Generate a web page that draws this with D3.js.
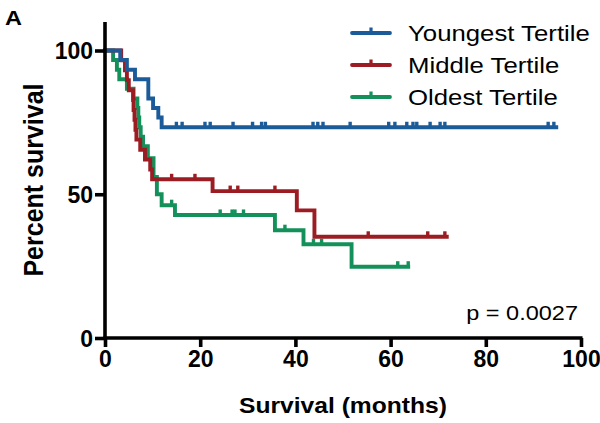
<!DOCTYPE html>
<html><head><meta charset="utf-8">
<script src="https://cdn.jsdelivr.net/npm/d3@7"></script>
<style>body{margin:0;background:#fff}svg{display:block}text{font-family:"Liberation Sans",Arial,sans-serif}</style>
</head><body><svg id="c" width="600" height="423"></svg>
<script>
const seriesNames = ["Youngest Tertile","Middle Tertile","Oldest Tertile"];
const seriesColors = ["#1b5b99","#9b1c22","#14915a"];
// step curves: [month, percent]
const youngSteps = [[0,100],[3.2,96.7],[4.6,93.3],[6.3,90.0],[9.1,83.3],[10.1,80.0],[11.2,76.7],[11.9,73.3]];
const youngEnd = 94.8;
const youngCensor = [15.0,16.2,21.0,22.1,26.9,31.0,32.9,33.7,43.7,44.7,45.8,51.5,59.6,60.9,63.4,64.7,65.5,68.3,70.4,71.4,93.1,94.3];
const middleSteps = [[0,100],[3.4,96.6],[4.2,93.1],[4.6,89.7],[5.0,86.2],[5.9,82.8],[6.0,79.3],[6.2,75.9],[6.4,72.4],[6.6,69.0],[7.4,65.5],[8.4,62.1],[9.5,58.6],[9.9,55.2],[22.6,51.1],[40.3,44.4],[44.0,35.2]];
const middleEnd = 71.8;
const middleCensor = [14.0,18.9,26.3,27.9,35.7,55.3,67.8,71.4];
const oldSteps = [[0,100],[1.7,96.7],[2.5,93.3],[3.0,90.0],[4.6,86.7],[6.0,83.3],[6.8,80.0],[7.0,76.7],[7.2,73.3],[7.5,70.0],[8.0,66.7],[9.0,62.5],[10.2,56.0],[10.9,50.0],[11.9,46.2],[14.7,42.8],[35.7,37.5],[41.7,32.6],[51.8,24.8]];
const oldEnd = 63.7;
const oldCensor = [14.0,24.2,26.7,27.3,29.1,37.8,43.8,45.5,61.5,63.7];
const xTicks = [0,20,40,60,80,100];
const yTicks = [0,50,100];
const pText = "p = 0.0027";

const SX = 1.12;
const svg = d3.select("#c");
const x = d3.scaleLinear().domain([0,100]).range([105,581]);
const y = d3.scaleLinear().domain([0,100]).range([338,50.5]);

function stext(xp, yp, str, size, weight, anchor, rot){
  return svg.append("text")
    .attr("transform", `translate(${xp},${yp}) scale(${SX},1)` + (rot?` rotate(${rot})`:""))
    .attr("text-anchor", anchor).attr("font-size", size).attr("font-weight", weight)
    .attr("fill","#000").text(str);
}

const series = [
  {steps: youngSteps, end: youngEnd, cens: youngCensor},
  {steps: middleSteps, end: middleEnd, cens: middleCensor},
  {steps: oldSteps, end: oldEnd, cens: oldCensor}
];

function levelAt(steps, t){
  let v = steps[0][1];
  for (const s of steps) if (s[0] <= t) v = s[1];
  return v;
}

const order = [2,1,0];
const line = d3.line().curve(d3.curveStepAfter).x(d=>x(d[0])).y(d=>y(d[1]));
order.forEach(i=>{
  const s = series[i];
  const pts = s.steps.concat([[s.end, s.steps[s.steps.length-1][1]]]);
  const g = svg.append("g");
  g.append("path").attr("d", line(pts)).attr("fill","none")
    .attr("stroke", seriesColors[i]).attr("stroke-width",3.9).attr("stroke-linejoin","miter").attr("stroke-linecap","square");
  g.selectAll("line.c").data(s.cens).join("line")
    .attr("x1", d=>x(d)).attr("x2", d=>x(d))
    .attr("y1", d=>y(levelAt(s.steps,d))).attr("y2", d=>y(levelAt(s.steps,d))-5.5)
    .attr("stroke", seriesColors[i]).attr("stroke-width",3.4);
});

// axes
const xAxis = svg.append("g").attr("transform","translate(0,338)")
  .call(d3.axisBottom(x).tickValues(xTicks).tickSize(9).tickPadding(5).tickFormat(d3.format("d")));
xAxis.select(".domain").attr("d", `M${x(0)-1.5},0H${x(100)+1.5}`).attr("stroke","#000").attr("stroke-width",3.6);
xAxis.selectAll(".tick line").attr("stroke","#000").attr("stroke-width",3.6);
xAxis.selectAll(".tick text").attr("font-size",23).attr("font-weight","bold").attr("fill","#000")
  .attr("font-family","'Liberation Sans',Arial,sans-serif").attr("dy","0.72em").attr("y",12);

const yAxis = svg.append("g").attr("transform","translate(105,0)")
  .call(d3.axisLeft(y).tickValues(yTicks).tickSize(10).tickPadding(3).tickFormat(d3.format("d")));
yAxis.select(".domain").attr("d", `M0,22H0V${y(0)+1.8}`).attr("stroke","#000").attr("stroke-width",3.6);
yAxis.selectAll(".tick line").attr("stroke","#000").attr("stroke-width",3.6);
yAxis.selectAll(".tick text").attr("font-size",23).attr("font-weight","bold").attr("fill","#000")
  .attr("font-family","'Liberation Sans',Arial,sans-serif").attr("x",-12).attr("dy","0.36em");

// titles
stext(343, 413, "Survival (months)", 22, "bold", "middle");
stext(43, 180, "Percent survival", 25, "bold", "middle", -90);
stext(5, 25, "A", 21, "bold", "start");
stext(578, 320, pText, 21, "normal", "end");

// legend
const legY = [33,65,97];
seriesNames.forEach((n,i)=>{
  svg.append("line").attr("x1",352).attr("x2",390).attr("y1",legY[i]).attr("y2",legY[i])
    .attr("stroke",seriesColors[i]).attr("stroke-width",3.8).attr("stroke-linecap","round");
  svg.append("line").attr("x1",371).attr("x2",371).attr("y1",legY[i]).attr("y2",legY[i]-5.5)
    .attr("stroke",seriesColors[i]).attr("stroke-width",3.2);
  stext(408, legY[i]+8, n, 23, "normal", "start");
});
</script></body></html>
